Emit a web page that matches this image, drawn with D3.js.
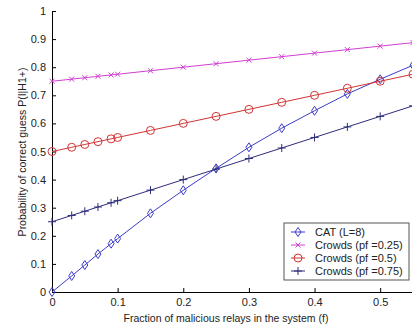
<!DOCTYPE html>
<html>
<head>
<meta charset="utf-8">
<script src="https://cdn.jsdelivr.net/npm/d3@7"></script>
<style>
    html, body { margin: 0; padding: 0; background: #fff; }
    svg { display: block; font-family: "Liberation Sans", Arial, sans-serif; }
</style>
</head>
<body>
<svg id="chart" width="412" height="329"></svg>
<script>
/* ===== DATA ===== */

const fractions = [0, 0.03, 0.05, 0.07, 0.09, 0.1, 0.15, 0.2, 0.25, 0.3, 0.35, 0.4, 0.45, 0.5, 0.55];

const catL8 = [0, 0.057, 0.096, 0.135, 0.172, 0.19, 0.28, 0.362, 0.44, 0.515, 0.583, 0.645, 0.705, 0.757, 0.807];
const crowds025 = [0.75, 0.7575, 0.7625, 0.7675, 0.7725, 0.775, 0.7875, 0.8, 0.8125, 0.825, 0.8375, 0.85, 0.8625, 0.875, 0.8875];
const crowds05 = [0.5, 0.515, 0.525, 0.535, 0.545, 0.55, 0.575, 0.6, 0.625, 0.65, 0.675, 0.7, 0.725, 0.75, 0.775];
const crowds075 = [0.25, 0.2725, 0.2875, 0.3025, 0.3175, 0.325, 0.3625, 0.4, 0.4375, 0.475, 0.5125, 0.55, 0.5875, 0.625, 0.6625];

const seriesNames = ["CAT (L=8)", "Crowds (pf =0.25)", "Crowds (pf =0.5)", "Crowds (pf =0.75)"];
const xTicks = [0, 0.1, 0.2, 0.3, 0.4, 0.5];
const yTicks = [0, 0.1, 0.2, 0.3, 0.4, 0.5, 0.6, 0.7, 0.8, 0.9, 1];

/* ===== SETUP ===== */

const svg = d3.select("#chart");
const x = d3.scaleLinear().domain([0, 0.55]).range([52, 413]);
const y = d3.scaleLinear().domain([0, 1]).range([292, 11]);

const series = [
    { name: seriesNames[0], values: catL8, color: "#3c3cc8", marker: "diamond" },
    { name: seriesNames[1], values: crowds025, color: "#d040d0", marker: "cross" },
    { name: seriesNames[2], values: crowds05, color: "#d03434", marker: "circle" },
    { name: seriesNames[3], values: crowds075, color: "#2c2c7a", marker: "plus" }
];

/* ===== AXES ===== */

const xAxis = svg.append("g")
    .attr("transform", `translate(0,${y(0)})`)
    .call(d3.axisBottom(x).tickValues(xTicks).tickSizeInner(-4).tickSizeOuter(0)
        .tickFormat(d => d3.format("")(d)).tickPadding(6));

const yAxis = svg.append("g")
    .attr("transform", `translate(${x(0)},0)`)
    .call(d3.axisLeft(y).tickValues(yTicks).tickSizeInner(-4).tickSizeOuter(0)
        .tickFormat(d => d3.format("")(d)).tickPadding(6));

[xAxis, yAxis].forEach(a => {
    a.select(".domain").attr("stroke", "#000");
    a.selectAll(".tick line").attr("stroke", "#000");
    a.selectAll("text").attr("fill", "#222").style("font-size", "11px");
});

/* ===== LINES & MARKERS ===== */

const line = d3.line()
    .x((d, i) => x(fractions[i]))
    .y(d => y(d));

function drawMarker(sel, type, color) {
    if (type === "diamond") {
        sel.append("path").attr("d", "M0,-4.5L3,0L0,4.5L-3,0Z")
            .attr("fill", "none").attr("stroke", color).attr("stroke-width", 1);
    } else if (type === "circle") {
        sel.append("circle").attr("r", 4)
            .attr("fill", "none").attr("stroke", color).attr("stroke-width", 1);
    } else if (type === "cross") {
        sel.append("path").attr("d", "M-2.5,-2.5L2.5,2.5M-2.5,2.5L2.5,-2.5")
            .attr("stroke", color).attr("stroke-width", 1);
    } else if (type === "plus") {
        sel.append("path").attr("d", "M-4,0L4,0M0,-4L0,4")
            .attr("stroke", color).attr("stroke-width", 1);
    }
}

const plot = svg.append("g");

series.forEach(s => {
    plot.append("path")
        .attr("d", line(s.values))
        .attr("fill", "none")
        .attr("stroke", s.color)
        .attr("stroke-width", 1);

    s.values.forEach((v, i) => {
        const m = plot.append("g")
            .attr("transform", `translate(${x(fractions[i])},${y(v)})`);
        drawMarker(m, s.marker, s.color);
    });
});

/* ===== LABELS ===== */

svg.append("text")
    .attr("x", 226)
    .attr("y", 322)
    .attr("text-anchor", "middle")
    .attr("fill", "#222")
    .style("font-size", "10.5px")
    .text("Fraction of malicious relays in the system (f)");

svg.append("text")
    .attr("transform", "translate(22,152) rotate(-90)")
    .attr("text-anchor", "middle")
    .attr("dy", "0.35em")
    .attr("fill", "#222")
    .style("font-size", "10.5px")
    .text("Probability of correct guess P(I|H1+)");

/* ===== LEGEND ===== */

const legend = svg.append("g").attr("transform", "translate(284,223)");

legend.append("rect")
    .attr("width", 125)
    .attr("height", 57)
    .attr("fill", "#fff")
    .attr("stroke", "#555")
    .attr("stroke-width", 1);

series.forEach((s, i) => {
    const row = legend.append("g").attr("transform", `translate(0,${9 + i * 13})`);
    row.append("line")
        .attr("x1", 7).attr("x2", 21)
        .attr("stroke", s.color).attr("stroke-width", 1);
    drawMarker(row.append("g").attr("transform", "translate(14,0)"), s.marker, s.color);
    row.append("text")
        .attr("x", 31)
        .attr("dy", "0.35em")
        .attr("fill", "#222")
        .style("font-size", "11px")
        .text(s.name);
});
</script>
</body>
</html>
